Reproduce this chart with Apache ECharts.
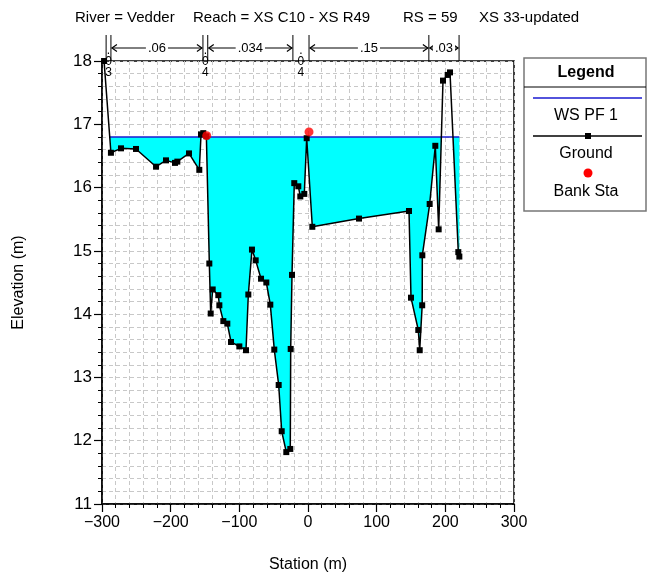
<!DOCTYPE html>
<html><head><meta charset="utf-8">
<script src="https://cdn.jsdelivr.net/npm/echarts@6/dist/echarts.min.js"></script>
<style>html,body{margin:0;padding:0;background:#fff}#c{width:648px;height:574px}</style>
</head><body><div id="c"></div>
<script>
const groundStation = [-297, -287, -272.3, -250.5, -221.3, -206.8, -193.7, -190.3, -173.3, -158.3, -155.8, -152.5, -148,
  -143.7, -141.7, -138.8, -130.6, -129.1, -123.3, -117.5, -112.1, -100, -90.3, -86.9, -81.6, -76.2, -68.4, -60.7, -54.9,
  -49.1, -42.7, -38.3, -31.6, -25.8, -25.2, -23.3, -20.0, -14.1, -11.2, -5.4, -1.9, 6.3, 74.3, 147.1, 150, 160.6, 162.7,
  166.3, 166.5, 177.2, 185.4, 190.3, 196.6, 203.4, 206.8, 218.9, 220.4];
const groundElevation = [18.0, 16.55, 16.62, 16.61, 16.33, 16.43, 16.39, 16.41, 16.54, 16.28, 16.84, 16.86, 16.81,
  14.80, 14.01, 14.39, 14.30, 14.14, 13.89, 13.85, 13.56, 13.49, 13.43, 14.31, 15.02, 14.85, 14.56, 14.50, 14.15,
  13.44, 12.88, 12.15, 11.82, 11.87, 13.45, 14.62, 16.07, 16.02, 15.86, 15.90, 16.78, 15.38, 15.51, 15.63, 14.26, 13.75, 13.43,
  14.14, 14.93, 15.74, 16.66, 15.34, 17.69, 17.78, 17.82, 14.98, 14.91];
const wsElevation = 16.80;
const bankStation = [-147.5, 1.5];
const bankElevation = [16.82, 16.88];
const nBreakStation = [-294, -287, -153, -146, -22, 1.5, 176, 220];
const nValues = ['.03', '.06', '.04', '.034', '.04', '.15', '.03'];
const titleParts = ['River = Vedder', 'Reach = XS C10 - XS R49', 'RS = 59', 'XS 33-updated'];
const titleX = [75, 193, 403, 479];
const legendLabels = ['WS PF 1', 'Ground', 'Bank Sta'];

const FONT = 'Liberation Sans, Arial, Helvetica, sans-serif';

// water polygon from ground clipped at the water surface
function waterPoints() {
  const pts = [];
  for (let i = 0; i < groundStation.length; i++) {
    const x = groundStation[i], y = groundElevation[i];
    if (i > 0) {
      const x0 = groundStation[i - 1], y0 = groundElevation[i - 1];
      if ((y0 - wsElevation) * (y - wsElevation) < 0) {
        const t = (wsElevation - y0) / (y - y0);
        pts.push([x0 + t * (x - x0), wsElevation]);
      }
    }
    if (pts.length === 0 && y >= wsElevation) continue;
    pts.push([x, Math.min(y, wsElevation)]);
  }
  const last = pts[pts.length - 1];
  pts.push([last[0], wsElevation]);
  return pts;
}
const waterPts = waterPoints();
const wsLine = [[waterPts[0][0], wsElevation], [waterPts[waterPts.length - 1][0], wsElevation]];

const chart = echarts.init(document.getElementById('c'), null, {renderer: 'canvas'});
const dash = {color: '#c8c8c8', width: 1, type: [4, 3]};
const minusFmt = v => String(v).replace('-', '\u2212');

chart.setOption({
  animation: false,
  backgroundColor: '#fff',
  textStyle: {fontFamily: FONT},
  grid: {left: 102, right: 134, top: 61, bottom: 70, containLabel: false, outerBoundsMode: 'none',
    show: true, borderColor: '#000', borderWidth: 1.5, backgroundColor: 'transparent'},
  xAxis: {
    type: 'value', min: -300, max: 300, interval: 100,
    name: 'Station (m)', nameLocation: 'middle', nameGap: 53,
    nameTextStyle: {fontSize: 16, color: '#000', fontFamily: FONT},
    axisLine: {show: true, onZero: false, lineStyle: {color: '#000', width: 1.5}},
    axisTick: {show: true, length: 8, lineStyle: {color: '#000', width: 1.2}},
    minorTick: {show: true, splitNumber: 5, length: 4, lineStyle: {color: '#000', width: 1}},
    axisLabel: {fontSize: 16, color: '#000', margin: 11, formatter: minusFmt, fontFamily: FONT},
    splitLine: {show: true, lineStyle: dash},
    minorSplitLine: {show: true, lineStyle: dash}
  },
  yAxis: {
    type: 'value', min: 11, max: 18, interval: 1,
    name: 'Elevation (m)', nameLocation: 'middle', nameGap: 75,
    nameTextStyle: {fontSize: 16, color: '#000', fontFamily: FONT},
    axisLine: {show: true, onZero: false, lineStyle: {color: '#000', width: 1.5}},
    axisTick: {show: true, length: 8, lineStyle: {color: '#000', width: 1.2}},
    minorTick: {show: true, splitNumber: 5, length: 4, lineStyle: {color: '#000', width: 1}},
    axisLabel: {fontSize: 17, color: '#000', margin: 10, fontFamily: FONT},
    splitLine: {show: true, lineStyle: dash},
    minorSplitLine: {show: true, lineStyle: dash}
  },
  series: [
    {
      type: 'custom', name: 'Water', z: 2, silent: true, clip: true,
      data: [[waterPts[0][0], wsElevation]],
      renderItem: (params, api) => {
        return {type: 'polygon', shape: {points: waterPts.map(p => api.coord(p))}, style: {fill: '#00ffff'}};
      }
    },
    {
      type: 'line', name: 'WS PF 1', z: 3, data: wsLine, symbol: 'none',
      lineStyle: {color: '#1a1ad0', width: 1.5}
    },
    {
      type: 'line', name: 'Ground', z: 4, data: groundStation.map((x, i) => [x, groundElevation[i]]),
      symbol: 'rect', symbolSize: 6, itemStyle: {color: '#000'},
      lineStyle: {color: '#000', width: 1.5}
    },
    {
      type: 'scatter', name: 'Bank Sta', z: 5, data: bankStation.map((x, i) => [x, bankElevation[i]]),
      symbol: 'circle', symbolSize: 9, itemStyle: {color: '#ff0000'}
    }
  ]
});

// ----- annotations: title, Manning's n, legend -----
const g = [];
titleParts.forEach((t, i) => g.push({type: 'text', left: titleX[i], top: 10, z: 10,
  style: {text: t, font: '15px ' + FONT, fill: '#000'}}));

const topY = chart.convertToPixel({yAxisIndex: 0}, 18);
const lineTop = 35, arrowY = 48;
const px = nBreakStation.map(s => chart.convertToPixel({xAxisIndex: 0}, s));
px.forEach(x => g.push({type: 'line', z: 10, shape: {x1: x, y1: lineTop, x2: x, y2: topY},
  style: {stroke: '#000', lineWidth: 1}}));
for (let i = 0; i < nValues.length; i++) {
  const a = px[i], b = px[i + 1], w = b - a, cx = (a + b) / 2;
  if (w < 20) {
    g.push({type: 'text', z: 11, x: cx, y: 45, style: {text: nValues[i].split('').join('\n'),
      font: '12px ' + FONT, fill: '#000', align: 'center', verticalAlign: 'top', lineHeight: 11}});
  } else {
    g.push({type: 'line', z: 10, shape: {x1: a + 1, y1: arrowY, x2: b - 1, y2: arrowY}, style: {stroke: '#000', lineWidth: 1}});
    g.push({type: 'polyline', z: 10, shape: {points: [[a + 6, arrowY - 3.5], [a + 1, arrowY], [a + 6, arrowY + 3.5]]}, style: {stroke: '#000', lineWidth: 1.2, fill: null}});
    g.push({type: 'polyline', z: 10, shape: {points: [[b - 6, arrowY - 3.5], [b - 1, arrowY], [b - 6, arrowY + 3.5]]}, style: {stroke: '#000', lineWidth: 1.2, fill: null}});
    g.push({type: 'text', z: 11, x: cx, y: arrowY, style: {text: nValues[i], font: '13px ' + FONT, fill: '#000',
      align: 'center', verticalAlign: 'middle', backgroundColor: '#fff', padding: [0, 2]}});
  }
}

// legend box
const LX = 524, LY = 58, LW = 122, LH = 153, LC = 586;
g.push({type: 'rect', z: 10, shape: {x: LX, y: LY, width: LW, height: LH}, style: {fill: '#fff', stroke: '#777', lineWidth: 1.5}});
g.push({type: 'text', z: 11, x: LC, y: 73, style: {text: 'Legend', font: 'bold 16px ' + FONT, fill: '#000', align: 'center', verticalAlign: 'middle'}});
g.push({type: 'line', z: 11, shape: {x1: LX, y1: 87, x2: LX + LW, y2: 87}, style: {stroke: '#000', lineWidth: 1}});
g.push({type: 'line', z: 11, shape: {x1: 533, y1: 98, x2: 642, y2: 98}, style: {stroke: '#1a1ad0', lineWidth: 1.5}});
g.push({type: 'text', z: 11, x: LC, y: 116, style: {text: legendLabels[0], font: '16px ' + FONT, fill: '#000', align: 'center', verticalAlign: 'middle'}});
g.push({type: 'line', z: 11, shape: {x1: 533, y1: 136, x2: 642, y2: 136}, style: {stroke: '#000', lineWidth: 1.5}});
g.push({type: 'rect', z: 12, shape: {x: 585, y: 133, width: 6, height: 6}, style: {fill: '#000'}});
g.push({type: 'text', z: 11, x: LC, y: 154, style: {text: legendLabels[1], font: '16px ' + FONT, fill: '#000', align: 'center', verticalAlign: 'middle'}});
g.push({type: 'circle', z: 11, shape: {cx: 588, cy: 173, r: 4.5}, style: {fill: '#ff0000'}});
g.push({type: 'text', z: 11, x: LC, y: 192, style: {text: legendLabels[2], font: '16px ' + FONT, fill: '#000', align: 'center', verticalAlign: 'middle'}});

chart.setOption({graphic: {elements: g}});
</script>
</body></html>
